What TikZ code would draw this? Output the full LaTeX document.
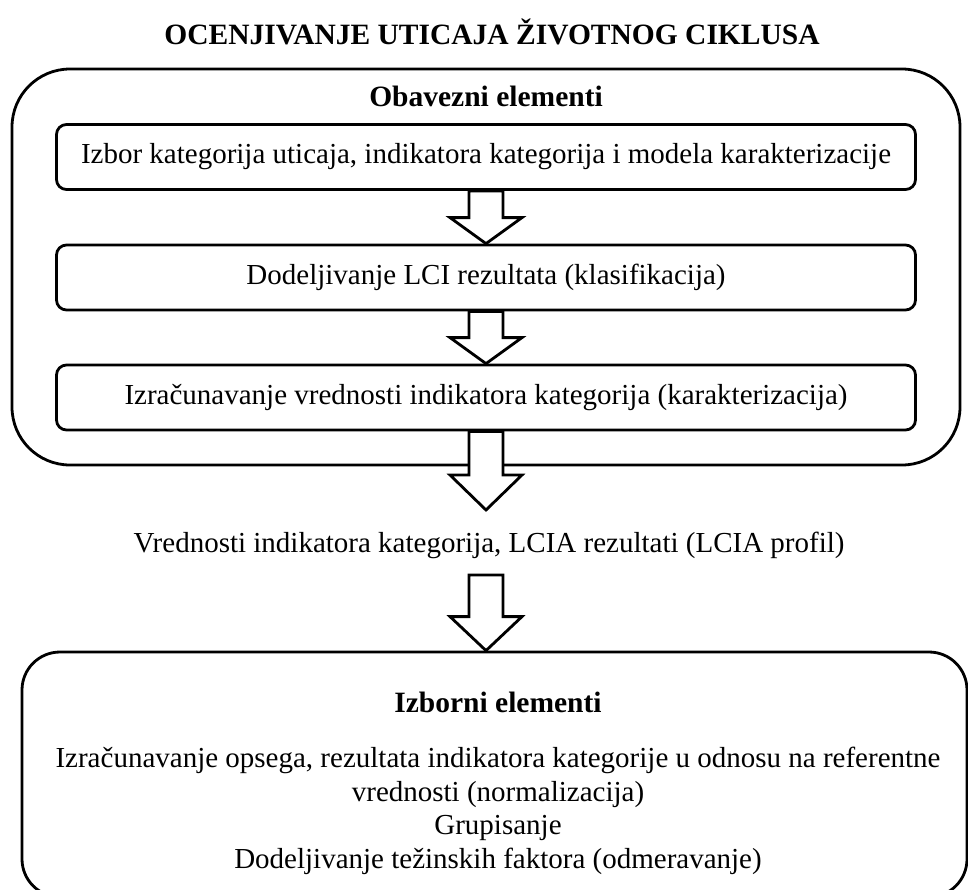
\documentclass[tikz,border=0pt]{standalone}
\usepackage{fontspec}
\setmainfont{Liberation Serif}
\usetikzlibrary{calc}
\tikzset{
  outerbox/.style={draw, line width=2.8pt, rounded corners=#1, inner sep=0pt},
  innerbox/.style={draw, line width=2.8pt, rounded corners=10pt, minimum width=859pt, minimum height=65pt, inner sep=0pt, font=\fontsize{29}{33.5}\selectfont},
  bodytext/.style={font=\fontsize{29}{33.5}\selectfont, inner sep=0pt, align=center},
  headtext/.style={font=\bfseries\fontsize{29.5}{33.5}\selectfont, inner sep=0pt},
  blockarrow/.style={draw, fill=white, line width=2.8pt, line join=miter}
}
\newcommand\BlockArr[3]{%
  \path[blockarrow] ($(#1)+(-17,0)$) -- ($(#2)+(-17,-#3)$) -- ($(#2)+(-36,-#3)$) -- (#2)
    -- ($(#2)+(36,-#3)$) -- ($(#2)+(17,-#3)$) -- ($(#1)+(17,0)$) -- cycle;}
\begin{document}
\begin{tikzpicture}[x=1pt,y=-1pt]
\useasboundingbox (0,0) rectangle (968,889);
\clip (0,0) rectangle (968,889);
\fill[white] (0,0) rectangle (968,889);
\node[headtext] (title) at (492,32) {OCENJIVANJE UTICAJA ŽIVOTNOG CIKLUSA};
\node[outerbox=58pt, minimum width=948pt, minimum height=396pt] (outer) at (486,267) {};
\node[headtext] (oblig) at (486,96) {Obavezni elementi};
\node[innerbox] (b1) at (486,157) {Izbor kategorija uticaja, indikatora kategorija i modela karakterizacije};
\node[innerbox] (b2) at (486,277.5) {Dodeljivanje LCI rezultata (klasifikacija)};
\node[innerbox] (b3) at (486,397.5) {Izračunavanje vrednosti indikatora kategorija (karakterizacija)};
\BlockArr{b1.south}{b2.north}{26}
\BlockArr{b2.south}{b3.north}{26}
\coordinate (a3end) at (486,510);
\BlockArr{b3.south}{a3end}{35}
\node[bodytext] (res) at (489,545) {Vrednosti indikatora kategorija, LCIA rezultati (LCIA profil)};
\node[outerbox=38pt, minimum width=945pt, minimum height=245pt] (opt) at (494.5,774.5) {};
\coordinate (a4start) at (486,575);
\BlockArr{a4start}{opt.north -| a4start}{34}
\node[headtext] (optt) at (498,702) {Izborni elementi};
\node[bodytext, anchor=north] (opttext) at (498,747) {Izračunavanje opsega, rezultata indikatora kategorije u odnosu na referentne\\ vrednosti (normalizacija)\\ Grupisanje\\ Dodeljivanje težinskih faktora (odmeravanje)};
\end{tikzpicture}
\end{document}
